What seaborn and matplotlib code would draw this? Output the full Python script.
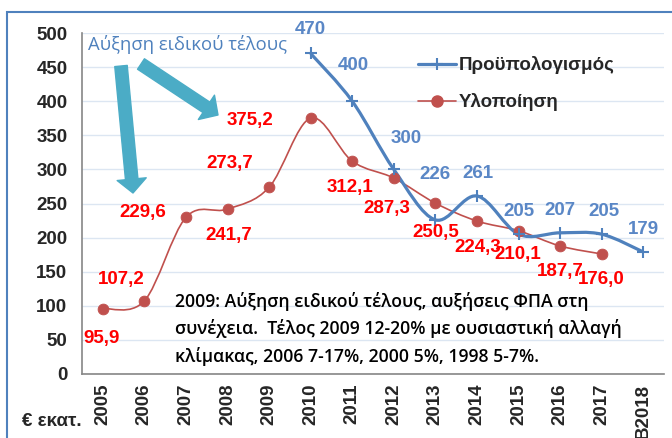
import numpy as np
import pandas as pd
import seaborn as sns
import matplotlib.pyplot as plt
from matplotlib.path import Path
from matplotlib.patches import PathPatch, Rectangle
from matplotlib.lines import Line2D

# categories
years = ['2005', '2006', '2007', '2008', '2009', '2010', '2011', '2012',
         '2013', '2014', '2015', '2016', '2017', 'B2018']
# Προϋπολογισμός starts in 2010
budget_years = ['2010', '2011', '2012', '2013', '2014', '2015', '2016', '2017', 'B2018']
budget = [470, 400, 300, 226, 261, 205, 207, 205, 179]
# Υλοποίηση 2005-2017
actual_years = years[:13]
actual = [95.9, 107.2, 229.6, 241.7, 273.7, 375.2, 312.1, 287.3, 250.5, 224.3, 210.1, 187.7, 176.0]

blue = '#4F81BD'
red = '#C0504D'

sns.set_style('white')
plt.rcParams['font.family'] = ['Liberation Sans', 'DejaVu Sans']

df_b = pd.DataFrame({'x': [years.index(y) for y in budget_years], 'v': budget})
df_a = pd.DataFrame({'x': [years.index(y) for y in actual_years], 'v': actual})


def smooth_path(xs, ys):
    # Excel-style smoothed line (Catmull-Rom as cubic bezier)
    xs, ys = list(xs), list(ys)
    n = len(xs)
    verts = [(xs[0], ys[0])]
    codes = [Path.MOVETO]
    for i in range(n - 1):
        p0 = i - 1 if i > 0 else i
        p3 = i + 2 if i + 2 < n else i + 1
        c1 = (xs[i] + (xs[i + 1] - xs[p0]) / 6, ys[i] + (ys[i + 1] - ys[p0]) / 6)
        c2 = (xs[i + 1] - (xs[p3] - xs[i]) / 6, ys[i + 1] - (ys[p3] - ys[i]) / 6)
        verts += [c1, c2, (xs[i + 1], ys[i + 1])]
        codes += [Path.CURVE4] * 3
    return Path(verts, codes)


fig = plt.figure(figsize=(6.72, 4.38), dpi=100)
ax = fig.add_axes([82 / 672, 64 / 438, 582 / 672, 341 / 438])

ax.add_patch(PathPatch(smooth_path(df_a.x, df_a.v), fill=False, edgecolor=red, lw=1.2, zorder=3))
ax.add_patch(PathPatch(smooth_path(df_b.x, df_b.v), fill=False, edgecolor=blue, lw=2.3, zorder=3))
sns.scatterplot(data=df_a, x='x', y='v', marker='o', s=60, color=red, edgecolor=red, zorder=4, ax=ax, legend=False)
sns.scatterplot(data=df_b, x='x', y='v', marker='+', s=80, color=blue, linewidth=1.5, zorder=5, ax=ax, legend=False)

# data labels
red_off = [(-1, -30), (-23, 21), (-43, 5), (1, -26), (-39, 24), (-61, -2), (-2, -26),
           (-7, -30), (0, -29), (1, -26), (-1, -24), (0, -26), (0, -26)]
blue_off = [(0, 24), (1, 36), (12, 31), (0, 45), (1, 22), (0, 23), (0, 22), (2, 23), (0, 22)]
for (x, v), off in zip(df_a.itertuples(index=False), red_off):
    ax.annotate(f'{v:.1f}'.replace('.', ','), (x, v), xytext=off, textcoords='offset pixels',
                ha='center', va='center', color='#FF0000', fontsize=13.5, fontweight='bold', zorder=6)
for (x, v), off in zip(df_b.itertuples(index=False), blue_off):
    ax.annotate(f'{v}', (x, v), xytext=off, textcoords='offset pixels',
                ha='center', va='center', color='#5A87C6', fontsize=13.5, fontweight='bold', zorder=6)

ax.set_xlim(-0.5, 13.5)
ax.set_ylim(0, 500)
ax.set_yticks(range(0, 501, 50))
ax.set_xticks(range(len(years)))
ax.set_xticklabels(years, rotation=90, fontsize=13.5, fontweight='bold')
ax.set_xticks(np.arange(-0.5, 14, 1), minor=True)
ax.tick_params(axis='x', which='major', length=0, pad=7)
ax.tick_params(axis='x', which='minor', length=5, color='#868686', direction='out')
ax.tick_params(axis='y', length=4.5, color='#868686', direction='out', pad=6, labelsize=13.5)
for t in ax.get_yticklabels():
    t.set_fontweight('bold')
ax.set_xlabel('')
ax.set_ylabel('')
ax.grid(axis='y', color='#DCE6F2', lw=1)
ax.set_axisbelow(True)
for s in ['top', 'right']:
    ax.spines[s].set_visible(False)
for s in ['left', 'bottom']:
    ax.spines[s].set_color('#868686')
    ax.spines[s].set_linewidth(1.2)

handles = [Line2D([], [], color=blue, lw=2.3, marker='+', markersize=9, markeredgewidth=1.5),
           Line2D([], [], color=red, lw=1.2, marker='o', markersize=8)]
leg = ax.legend(handles, ['Προϋπολογισμός', 'Υλοποίηση'], loc='upper left',
                bbox_to_anchor=(409 / 672, 1 - 47 / 438), bbox_transform=fig.transFigure,
                frameon=False, borderpad=0, handlelength=2.0, handletextpad=0.15,
                labelspacing=1.0, prop={'size': 13.5, 'weight': 'bold'})

fig.text(88 / 672, 1 - 45 / 438, 'Αύξηση ειδικού τέλους', color=blue, fontsize=13.3,
         family='Open Sans', va='center', ha='left')
fig.text(175 / 672, 1 - 292 / 438,
         '2009: Αύξηση ειδικού τέλους, αυξήσεις ΦΠΑ στη\n'
         'συνέχεια.  Τέλος 2009 12-20% με ουσιαστική αλλαγή\n'
         'κλίμακας, 2006 7-17%, 2000 5%, 1998 5-7%.',
         family='Open Sans', fontsize=12.7, fontweight=600, va='top', ha='left',
         linespacing=1.56, color='black', transform=fig.transFigure)
fig.text(22 / 672, 1 - 421 / 438, '€ εκατ.', fontsize=13.5, fontweight='bold', va='center', ha='left')

arrow_style = 'simple,head_length=0.5,head_width=1.05,tail_width=0.45'
for tail, tip in [((121, 438 - 66), (133, 438 - 193)), ((141, 438 - 64), (218, 438 - 115))]:
    ax.annotate('', xy=tip, xytext=tail, xycoords='figure pixels', textcoords='figure pixels',
                arrowprops=dict(arrowstyle=arrow_style, mutation_scale=20, color='#4BACC6',
                                shrinkA=0, shrinkB=0), annotation_clip=False)

# chart frame
fig.add_artist(Rectangle((7 / 672, -0.1), 1.2, 1.1 - 12 / 438, transform=fig.transFigure,
                         fill=False, edgecolor='#4F81BD', lw=1.5))

fig.savefig('out.png', dpi=100)
